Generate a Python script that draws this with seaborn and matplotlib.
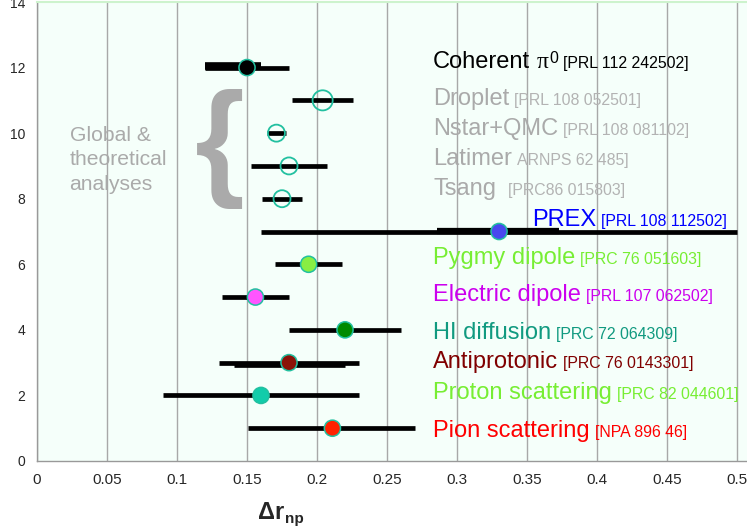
import matplotlib
matplotlib.use("Agg")
import matplotlib.pyplot as plt
import seaborn as sns
import pandas as pd

# ---------------- data ----------------
labels = ["Pion scattering", "Proton scattering", "Antiprotonic", "HI diffusion",
          "Electric dipole", "Pygmy dipole", "PREX", "Tsang", "Latimer",
          "Nstar+QMC", "Droplet", "Coherent"]
refs = ["[NPA 896 46]", "[PRC 82 044601]", "[PRC 76 0143301]", "[PRC 72 064309]",
        "[PRL 107 062502]", "[PRC 76 051603]", "[PRL 108 112502]", "[PRC86 015803]",
        "ARNPS 62 485]", "[PRL 108 081102]", "[PRL 108 052501]", "[PRL 112 242502]"]
rows = [1, 2, 3, 4, 5, 6, 7, 8, 9, 10, 11, 12]
dr_np = [0.211, 0.160, 0.180, 0.220, 0.156, 0.194, 0.330, 0.175, 0.180, 0.171, 0.204, 0.150]
err_lo = [0.151, 0.090, 0.130, 0.180, 0.132, 0.170, 0.160, 0.161, 0.153, 0.164, 0.182, 0.120]
err_hi = [0.270, 0.230, 0.230, 0.260, 0.180, 0.218, 0.500, 0.189, 0.207, 0.178, 0.226, 0.180]
kind = ["filled", "filled", "filled", "filled", "filled", "filled", "filled",
        "open", "open", "open", "open", "filled"]

# second (inner) error bars
sec_rows = [12, 7, 3]
sec_lo = [0.120, 0.286, 0.1405]
sec_hi = [0.160, 0.373, 0.220]

label_rows = [0.74, 1.88, 2.83, 3.71, 4.88, 6.01, 7.17, 8.11, 9.03, 9.94, 10.86, 11.98]
label_xs = [0.2829, 0.2829, 0.2829, 0.2829, 0.2829, 0.2829, 0.3536, 0.2829, 0.2829,
            0.2829, 0.2829, 0.2829]

group_lines = ["Global &", "theoretical", "analyses"]
group_rows = [9.77, 9.03, 8.27]

xticks = [0, 0.05, 0.1, 0.15, 0.2, 0.25, 0.3, 0.35, 0.4, 0.45, 0.5]
xtick_labels = ["0", "0.05", "0.1", "0.15", "0.2", "0.25", "0.3", "0.35", "0.4", "0.45", "0.5"]
yticks = [0, 2, 4, 6, 8, 10, 12, 14]

# ---------------- styles ----------------
marker_colors = {"Pion scattering": "#ff2200", "Proton scattering": "#11ccaa",
                 "Antiprotonic": "#8b1208", "HI diffusion": "#008a00",
                 "Electric dipole": "#ff55ff", "Pygmy dipole": "#88ee44",
                 "PREX": "#4848ee", "Coherent": "#000000"}
text_colors = {"Pion scattering": "#ff0000", "Proton scattering": "#77ee33",
               "Antiprotonic": "#800000", "HI diffusion": "#119a80",
               "Electric dipole": "#cc00ee", "Pygmy dipole": "#77ee33",
               "PREX": "#0000ff", "Tsang": "#aaaaaa", "Latimer": "#aaaaaa",
               "Nstar+QMC": "#aaaaaa", "Droplet": "#aaaaaa", "Coherent": "#000000"}
ref_colors = dict(text_colors)
for k in ["Tsang", "Latimer", "Nstar+QMC", "Droplet"]:
    ref_colors[k] = "#b3b3b3"
sec_dy = [0.04, 0.02, -0.07]
sec_lw = [5.5, 4.5, 3.4]
ref_gap = {"Tsang": 12}
edge = "#22c0a0"

sns.set_style("white")
plt.rcParams['font.family'] = ['Liberation Sans', 'DejaVu Sans']

df = pd.DataFrame({"label": labels, "ref": refs, "row": rows, "dr": dr_np,
                   "lo": err_lo, "hi": err_hi, "kind": kind})

fig = plt.figure(figsize=(7.47, 5.31), dpi=100)
ax = fig.add_axes([37 / 747, 70 / 531, 710 / 747, 459 / 531])
ax.set_facecolor("#f5fffa")

# error bars
ax.hlines(df["row"], df["lo"], df["hi"], color="black", lw=3.4, zorder=2)
for r, lo, hi, dy, lw in zip(sec_rows, sec_lo, sec_hi, sec_dy, sec_lw):
    ax.hlines([r + dy], [lo], [hi], color="black", lw=lw, zorder=2)

filled = df[df["kind"] == "filled"]
opened = df[df["kind"] == "open"]
sns.scatterplot(data=filled, x="dr", y="row", hue="label", palette=marker_colors,
                s=135, edgecolor=edge, linewidth=1.1, legend=False, ax=ax, zorder=3)
sns.scatterplot(data=opened[opened["label"] != "Droplet"], x="dr", y="row",
                s=150, facecolor="none", edgecolor=edge, linewidth=1.3,
                legend=False, ax=ax, zorder=3)
sns.scatterplot(data=opened[opened["label"] == "Droplet"], x="dr", y="row",
                s=210, facecolor="none", edgecolor=edge, linewidth=1.3,
                legend=False, ax=ax, zorder=3)

ax.set_xlim(0, 0.5071)
ax.set_ylim(0, 14)
ax.set_xticks(xticks)
ax.set_xticklabels(xtick_labels, fontsize=11)
ax.set_yticks(yticks)
ax.set_yticklabels([str(v) for v in yticks], fontsize=10)
ax.tick_params(axis="x", length=3, width=1, color="#999999", pad=5.5)
ax.tick_params(axis="y", length=4, width=1, color="#999999", pad=4.5)
ax.set_xlabel("")
ax.set_ylabel("")
ax.xaxis.grid(True, color="#a8a8a8", lw=1.0)
ax.yaxis.grid(False)
ax.set_axisbelow(True)
for s in ["left", "bottom"]:
    ax.spines[s].set_color("#999999")
    ax.spines[s].set_linewidth(1.0)
ax.spines["top"].set_color("#cdf3cd")
ax.spines["top"].set_linewidth(1.5)
ax.spines["right"].set_visible(False)

# labels
fig.canvas.draw()
renderer = fig.canvas.get_renderer()
inv = ax.transData.inverted()


def after(t, gap_px):
    bb = t.get_window_extent(renderer)
    return inv.transform((bb.x1 + gap_px, 0))[0]


for lab, ref, yb, xl in zip(labels, refs, label_rows, label_xs):
    t = ax.text(xl, yb, lab, fontsize=17, color=text_colors[lab],
                va="baseline", ha="left", zorder=4)
    if lab == "Coherent":
        tp = ax.text(after(t, 6), yb, "π", fontsize=17, color="black",
                     family=["Liberation Serif", "DejaVu Serif"],
                     va="baseline", ha="left")
        y_sup = yb + 5 / 32.79
        t = ax.text(after(tp, 1), y_sup, "0", fontsize=11.5, color="black",
                    va="baseline", ha="left")
    ax.text(after(t, ref_gap.get(lab, 5)), yb, ref, fontsize=11.4,
            color=ref_colors[lab], va="baseline", ha="left", zorder=4)

for line, yb in zip(group_lines, group_rows):
    ax.text(0.0233, yb, line, fontsize=15.2, color="#aaaaaa", va="baseline", ha="left")

ax.text(0.1130, 8.51, "{", fontsize=92, fontweight="bold", color="#aaaaaa",
        va="baseline", ha="left")

# x axis label
fig.text(284 / 747, 1 - 519 / 531, "Δr", fontsize=17, fontweight="bold",
         ha="right", va="baseline")
fig.text(285 / 747, 1 - 523 / 531, "np", fontsize=11, fontweight="bold",
         ha="left", va="baseline")

fig.savefig("out.png", dpi=100)
